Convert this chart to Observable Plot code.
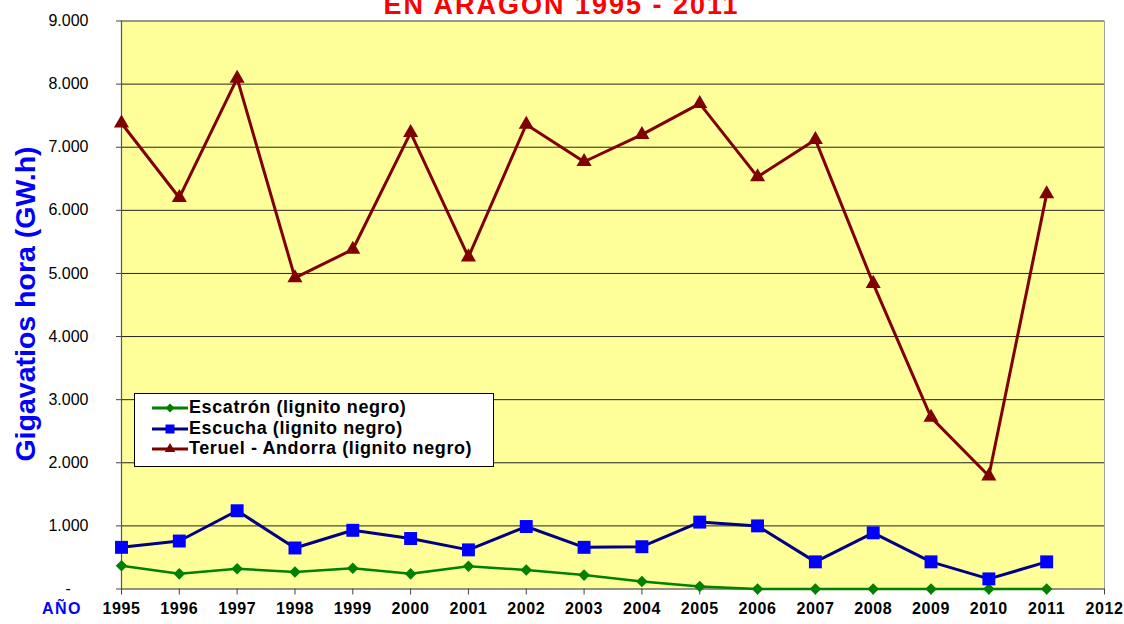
<!DOCTYPE html>
<html><head><meta charset="utf-8">
<script src="https://cdn.jsdelivr.net/npm/d3@7"></script>
<script src="https://cdn.jsdelivr.net/npm/@observablehq/plot@0.6"></script>
<style>
html,body{margin:0;padding:0;background:#fff;}
#wrap{position:relative;width:1124px;height:624px;overflow:hidden;font-family:"Liberation Sans",Arial,sans-serif;}
#legend{position:absolute;left:134px;top:393px;width:358px;height:72px;border:1px solid #000;background:#fff;}
.row{position:absolute;left:17px;height:20px;line-height:20px;font-size:18px;font-weight:bold;letter-spacing:0.6px;white-space:nowrap;display:flex;align-items:center;color:#000;}
.row svg{flex:none;}
</style></head><body><div id="wrap"></div>
<script>
// ---- data ----
const years = [1995,1996,1997,1998,1999,2000,2001,2002,2003,2004,2005,2006,2007,2008,2009,2010,2011];
const escatron = [370,240,320,270,330,240,360,300,220,120,40,0,0,0,0,0,0];
const escucha = [660,760,1240,650,930,800,620,990,660,670,1060,1000,430,890,430,160,430];
const teruel = [7380,6200,8090,4930,5380,7230,5260,7360,6770,7200,7690,6530,7120,4840,2720,1790,6260];
const seriesNames = ["Escatrón (lignito negro)","Escucha (lignito negro)","Teruel - Andorra (lignito negro)"];
const xTicks = [1995,1996,1997,1998,1999,2000,2001,2002,2003,2004,2005,2006,2007,2008,2009,2010,2011,2012];
const yTicks = [0,1000,2000,3000,4000,5000,6000,7000,8000,9000];
const titleText = "EN ARAGÓN 1995 - 2011";
const yTitle = "Gigavatios hora (GW.h)";
const xTitle = "AÑO";

// ---- styles ----
const styles = [
  {values: escatron, line:"#008000", marker:"#008000", symbol:"diamond2", r:5.2, width:2.5},
  {values: escucha, line:"#000080", marker:"#0000ff", symbol:"square", r:7.3, width:3},
  {values: teruel, line:"#800000", marker:"#800000", symbol:"triangle", r:5.6, width:3}
];
const series = styles.map((s,k)=>({name: seriesNames[k], ...s, data: years.map((y,i)=>({year:y, value:s.values[i]}))}));

const yFmt = d => d === 0 ? "-\u2007\u2007" : d3.format(",")(d).replace(/,/g,".");

const marks = [
  Plot.frame({fill:"#ffff99", stroke:"none"}),
  Plot.ruleY(yTicks.filter(d=>d>0), {stroke:"#222", strokeWidth:1}),
  Plot.frame({stroke:"#a0a0a0"}),
  Plot.ruleX([1995], {stroke:"#555", strokeWidth:1.2}),
  Plot.ruleY([0], {stroke:"#555", strokeWidth:1.2}),
  Plot.axisX(xTicks, {tickSize:6, tickPadding:8, fontSize:16, fontWeight:"bold", stroke:"#444", fill:"#000", tickFormat:d=>String(d), label:null}),
  Plot.axisY(yTicks, {tickSize:5, tickPadding:28, fontSize:16, stroke:"#444", fill:"#000", tickFormat:yFmt, label:null}),
];
for (const s of series) {
  marks.push(Plot.line(s.data, {x:"year", y:"value", stroke:s.line, strokeWidth:s.width}));
}
for (const s of series) {
  marks.push(Plot.dot(s.data, {x:"year", y:"value", symbol:s.symbol, r:s.r, fill:s.marker, stroke:"none"}));
}
marks.push(
  Plot.text([titleText], {text:d=>d, frameAnchor:"top", textAnchor:"middle", dx:-51.5, dy:-7.5, lineAnchor:"bottom", fontSize:27, fontWeight:"bold", fill:"#f00"}),
  Plot.text([yTitle], {text:d=>d, frameAnchor:"left", textAnchor:"middle", lineAnchor:"middle", dx:-96, dy:-1, rotate:-90, fontSize:28.5, fontWeight:"bold", fill:"#0000ff"}),
  Plot.text([xTitle], {text:d=>d, frameAnchor:"bottom-left", textAnchor:"middle", dx:-59.5, dy:24.8, lineAnchor:"bottom", fontSize:16, fontWeight:"bold", fill:"#0000ff"})
);

const chart = Plot.plot({
  width:1124, height:624,
  marginLeft:121, marginRight:20, marginTop:20.5, marginBottom:35.5,
  style:{fontFamily:"'Liberation Sans', Arial, sans-serif", background:"white", color:"#000"},
  x:{domain:[1995,2012]},
  y:{domain:[0,9000]},
  marks
});
const wrap = document.getElementById("wrap");
wrap.appendChild(chart);
chart.querySelectorAll('g[aria-label="x-axis tick label"] text').forEach(t=>t.style.letterSpacing="0.6px");
chart.querySelectorAll('text').forEach(t=>{
  if (t.textContent === titleText) t.style.letterSpacing = "2px";
  if (t.textContent === xTitle) t.style.letterSpacing = "1.5px";
});

// ---- legend ----
const legend = document.createElement("div");
legend.id = "legend";
wrap.appendChild(legend);
const legendSym = [
  {sym:d3.symbolSquare, size:40, rot:45},
  {sym:d3.symbolSquare, size:81, rot:0},
  {sym:d3.symbolTriangle, size:48, rot:0}
];
series.forEach((s,k)=>{
  const row = document.createElement("div");
  row.className = "row";
  row.style.top = (3.1 + k*20.5) + "px";
  const ns = "http://www.w3.org/2000/svg";
  const svg = document.createElementNS(ns,"svg");
  svg.setAttribute("width","37"); svg.setAttribute("height","20");
  const ln = document.createElementNS(ns,"line");
  ln.setAttribute("x1","0"); ln.setAttribute("x2","36"); ln.setAttribute("y1","11"); ln.setAttribute("y2","11");
  ln.setAttribute("stroke", s.line); ln.setAttribute("stroke-width","3");
  svg.appendChild(ln);
  const p = document.createElementNS(ns,"path");
  p.setAttribute("d", d3.symbol(legendSym[k].sym, legendSym[k].size)());
  p.setAttribute("transform", `translate(18,11) rotate(${legendSym[k].rot})`);
  p.setAttribute("fill", s.marker);
  svg.appendChild(p);
  row.appendChild(svg);
  const span = document.createElement("span");
  span.textContent = s.name;
  row.appendChild(span);
  legend.appendChild(row);
});
</script>
</body></html>
